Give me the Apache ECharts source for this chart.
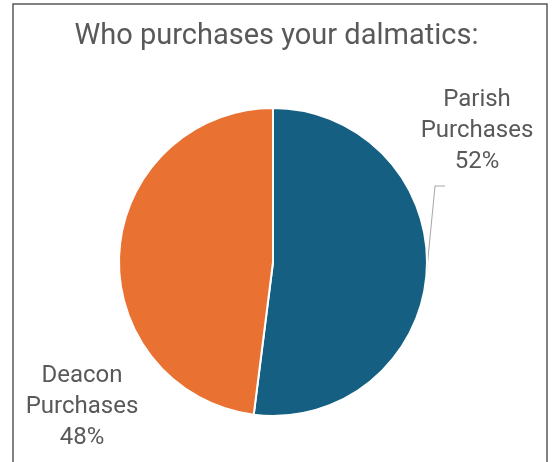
<!DOCTYPE html>
<html><head><meta charset="utf-8">
<script src="https://cdn.jsdelivr.net/npm/echarts@6/dist/echarts.min.js"></script>
<style>html,body{margin:0;padding:0;background:#fff}#c{width:553px;height:462px}</style>
</head><body><div id="c"></div>
<script>
const titleText = 'Who purchases your dalmatics:';
const categories = ['Parish Purchases', 'Deacon Purchases'];
const values = [52, 48];
const colors = ['#156082', '#E97132'];

const chart = echarts.init(document.getElementById('c'), null, {renderer: 'canvas'});
const FONT = 'Roboto';
chart.setOption({
  animation: false,
  backgroundColor: '#fff',
  title: {
    text: titleText, left: 'center', top: 17,
    textStyle: {fontFamily: FONT, fontSize: 29, fontWeight: 'normal', color: '#595959'}
  },
  graphic: [{
    type: 'rect', shape: {x: 13, y: 4, width: 534, height: 480},
    style: {fill: null, stroke: '#595959', lineWidth: 1.5}, silent: true, z: 100
  }],
  series: [{
    type: 'pie',
    center: [273, 262],
    radius: 154,
    startAngle: 90,
    clockwise: true,
    percentPrecision: 0,
    itemStyle: {borderColor: '#fff', borderWidth: 2},
    data: categories.map((c, i) => ({
      name: c, value: values[i], itemStyle: {color: colors[i]},
      labelLine: {show: i === 0}
    })),
    label: {
      show: true, position: 'outside', alignTo: 'none', overflow: 'none',
      formatter: p => p.name.replace(' ', '\n') + '\n' + p.percent + '%',
      fontFamily: FONT, fontSize: 24, lineHeight: 31, color: '#595959', align: 'center'
    },
    labelLine: {show: true, length: 10, length2: 10, lineStyle: {color: '#a6a6a6', width: 1}},
    labelLayout: function (params) {
      if (params.dataIndex === 0) {
        const p0 = params.labelLinePoints ? params.labelLinePoints[0] : [427, 271];
        return {x: 477, y: 131, width: 200, align: 'center', verticalAlign: 'middle',
          labelLinePoints: [p0, [435, 186], [445, 186]]};
      }
      return {x: 82, y: 407, width: 200, align: 'center', verticalAlign: 'middle'};
    }
  }]
});
</script></body></html>
